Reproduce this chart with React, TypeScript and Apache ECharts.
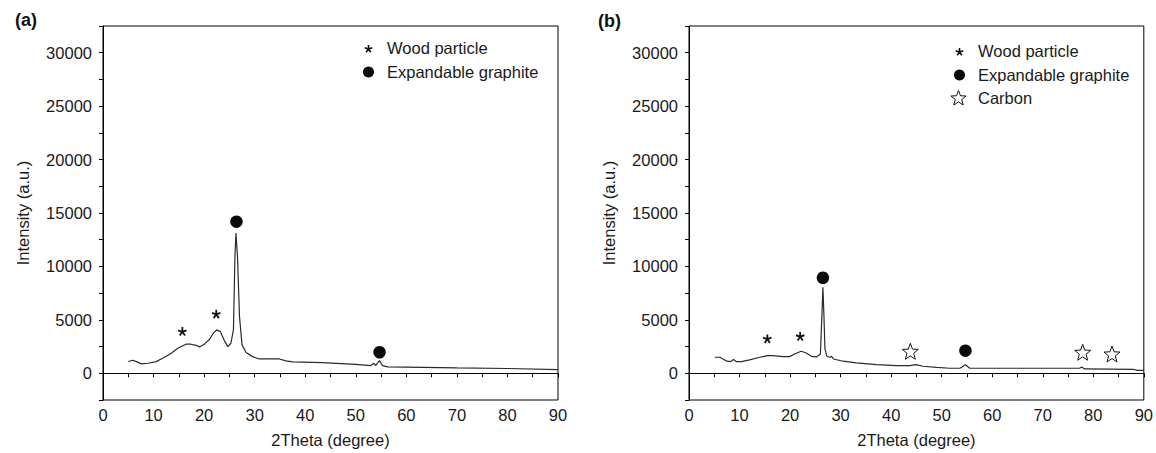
import React, { useEffect, useRef } from "react";
import * as echarts from "echarts";

// ---------- data ----------
const thetaA = [5.0, 5.9, 6.6, 7.6, 8.9, 10.5, 11.8, 13.5, 14.8, 16.4, 17.4, 18.4, 19.1, 20.1, 21.1, 21.8, 22.5, 23.2, 24.0, 24.7, 25.3, 25.8, 26.1, 26.3, 26.6, 27.0, 27.5, 28.3, 29.6, 30.9, 32.9, 34.9, 36.2, 37.5, 43.4, 50.0, 53.0, 53.6, 53.9, 54.7, 55.3, 56.3, 60, 70, 80, 90];
const intensityA = [1100, 1220, 1090, 880, 940, 1090, 1400, 1880, 2340, 2720, 2720, 2620, 2470, 2750, 3190, 3750, 4060, 3900, 3060, 2500, 2810, 4060, 10940, 13130, 10940, 5310, 2660, 1940, 1560, 1340, 1340, 1340, 1160, 1060, 1000, 840, 720, 940, 720, 1190, 720, 600, 580, 500, 450, 350];

const thetaB = [5.1, 6.1, 6.7, 7.5, 8.2, 8.8, 9.4, 10.4, 12.0, 14.0, 15.6, 16.6, 18.6, 19.9, 20.9, 22.2, 23.2, 24.2, 25.2, 26.0, 26.3, 26.5, 26.7, 26.9, 27.3, 27.9, 28.2, 28.6, 30.5, 33.1, 37.1, 41.1, 43.7, 44.9, 46.3, 49.0, 51.6, 53.6, 54.7, 55.5, 61.4, 77.3, 77.7, 78.3, 87.9, 88.7, 90];
const intensityB = [1500, 1500, 1340, 1130, 1090, 1280, 1090, 1090, 1250, 1500, 1660, 1660, 1560, 1560, 1810, 2060, 1900, 1590, 1530, 1810, 5400, 8060, 5400, 2280, 1590, 1500, 1590, 1340, 1130, 970, 810, 720, 720, 810, 660, 560, 470, 470, 800, 490, 470, 470, 590, 410, 375, 280, 280];

const woodA_theta = [15.7, 22.4];
const woodA_int = [3900, 5530];
const graphiteA_theta = [26.4, 54.7];
const graphiteA_int = [14190, 1970];

const woodB_theta = [15.5, 22.0];
const woodB_int = [3220, 3440];
const graphiteB_theta = [26.5, 54.7];
const graphiteB_int = [8940, 2120];
const carbonB_theta = [43.8, 77.9, 83.7];
const carbonB_int = [2060, 1970, 1810];

const legendNames = ["Wood particle", "Expandable graphite", "Carbon"];
const panelLabels = ["(a)", "(b)"];
const xAxisName = "2Theta (degree)";
const yAxisName = "Intensity (a.u.)";

// ---------- shapes ----------
function asteriskPath(): string {
  const angles = [-90, -18, 54, 126, 198];
  const w = 0.2;
  const L = 1;
  let d = "";
  for (const a of angles) {
    const r = (a * Math.PI) / 180;
    const dx = Math.cos(r);
    const dy = Math.sin(r);
    const px = -dy;
    const py = dx;
    const pts = [
      [w * px, w * py],
      [L * dx + w * px, L * dy + w * py],
      [L * dx - w * px, L * dy - w * py],
      [-w * px, -w * py],
    ];
    d += "M" + pts.map((p) => p[0].toFixed(3) + " " + p[1].toFixed(3)).join(" L") + " Z ";
  }
  return d;
}

function starPoints(cx: number, cy: number, R: number, r: number): number[][] {
  const pts: number[][] = [];
  for (let i = 0; i < 10; i++) {
    const ang = ((-90 + i * 36) * Math.PI) / 180;
    const rad = i % 2 === 0 ? R : r;
    pts.push([cx + rad * Math.cos(ang), cy + rad * Math.sin(ang)]);
  }
  return pts;
}

function starPath(): string {
  const pts = starPoints(0, 0, 1, 0.42);
  return "M" + pts.map((p) => p[0].toFixed(3) + " " + p[1].toFixed(3)).join(" L") + " Z";
}

const AST_D = asteriskPath();
const STAR_D = starPath();
echarts.graphic.registerShape("asteriskShape", echarts.graphic.extendPath(AST_D, {}));

const zip = (a: number[], b: number[]) => a.map((v, i) => [v, b[i]]);

const FONT = "Liberation Sans, Arial, sans-serif";
const TXT = "#1a1a1a";
const FS = 16.5;

export default function App() {
  const ref = useRef<HTMLDivElement>(null);

  useEffect(() => {
    if (!ref.current) return;
    const chart = echarts.init(ref.current, undefined, { renderer: "svg" });

    const grids = [
      { left: 103, top: 26, width: 455, height: 375 },
      { left: 689, top: 26, width: 455, height: 375 },
    ];

    const xAxisBase = (gi: number) => ({
      type: "value",
      gridIndex: gi,
      min: 0,
      max: 90,
      interval: 10,
      name: xAxisName,
      nameLocation: "middle",
      nameGap: 31,
      nameTextStyle: { fontSize: FS, color: TXT, fontFamily: FONT },
      axisLine: { show: true, lineStyle: { color: "#000", width: 1 } },
      axisTick: { show: true, inside: false, length: 4, lineStyle: { color: "#000" } },
      minorTick: { show: true, splitNumber: 2, length: 4, lineStyle: { color: "#000" } },
      splitLine: { show: false },
      axisLabel: { fontSize: FS, color: TXT, fontFamily: FONT, margin: 6 },
    });

    const yAxisBase = (gi: number) => ({
      type: "value",
      gridIndex: gi,
      min: -2500,
      max: 32500,
      interval: 2500,
      name: yAxisName,
      nameLocation: "middle",
      nameGap: 72,
      nameTextStyle: { fontSize: FS, color: TXT, fontFamily: FONT },
      axisLine: { show: true, lineStyle: { color: "#000", width: 1 } },
      axisTick: { show: true, inside: false, length: 4, lineStyle: { color: "#000" } },
      splitLine: { show: false },
      axisLabel: {
        fontSize: FS,
        color: TXT,
        fontFamily: FONT,
        margin: 11,
        formatter: (v: number) => (v >= 0 && v % 5000 === 0 ? String(v) : ""),
      },
    });

    const lineSeries = (gi: number, xs: number[], ys: number[]) => ({
      type: "line",
      xAxisIndex: gi,
      yAxisIndex: gi,
      data: zip(xs, ys),
      showSymbol: false,
      symbol: "none",
      lineStyle: { color: "#2a2a2a", width: 1.2 },
      z: 2,
    });

    const astSeries = (gi: number, xs: number[], ys: number[]) => ({
      type: "scatter",
      name: legendNames[0],
      xAxisIndex: gi,
      yAxisIndex: gi,
      data: zip(xs, ys),
      symbol: "path://" + AST_D,
      symbolSize: 9,
      itemStyle: { color: "#111", opacity: 1 },
      z: 3,
    });

    const circleSeries = (gi: number, xs: number[], ys: number[]) => ({
      type: "scatter",
      name: legendNames[1],
      xAxisIndex: gi,
      yAxisIndex: gi,
      data: zip(xs, ys),
      symbol: "circle",
      symbolSize: 12.5,
      itemStyle: { color: "#0a0a0a", opacity: 1 },
      z: 3,
    });

    const starSeries = (gi: number, xs: number[], ys: number[]) => ({
      type: "scatter",
      name: legendNames[2],
      xAxisIndex: gi,
      yAxisIndex: gi,
      data: zip(xs, ys),
      symbol: "path://" + STAR_D,
      symbolSize: 16,
      itemStyle: { color: "#fff", borderColor: "#111", borderWidth: 1, opacity: 1 },
      z: 3,
    });

    const legendText = (x: number, y: number, text: string) => ({
      type: "text",
      x,
      y,
      style: { text, fontSize: FS, fill: TXT, fontFamily: FONT, verticalAlign: "middle", align: "left" },
    });

    const graphic: any[] = [
      {
        type: "text",
        x: 15,
        y: 11,
        style: { text: panelLabels[0], fontSize: 18, fontWeight: "bold", fill: "#111", fontFamily: FONT },
      },
      {
        type: "text",
        x: 598,
        y: 12,
        style: { text: panelLabels[1], fontSize: 18, fontWeight: "bold", fill: "#111", fontFamily: FONT },
      },
      // legend (a)
      { type: "asteriskShape", x: 368.5, y: 49, scaleX: 4, scaleY: 4, style: { fill: "#111" } },
      legendText(387, 48, legendNames[0]),
      { type: "circle", shape: { cx: 368.5, cy: 72, r: 5.5 }, style: { fill: "#0a0a0a" } },
      legendText(387, 72, legendNames[1]),
      // legend (b)
      { type: "asteriskShape", x: 959.5, y: 52, scaleX: 4, scaleY: 4, style: { fill: "#111" } },
      legendText(978, 51, legendNames[0]),
      { type: "circle", shape: { cx: 959.5, cy: 75, r: 5.5 }, style: { fill: "#0a0a0a" } },
      legendText(978, 75, legendNames[1]),
      {
        type: "polygon",
        shape: { points: starPoints(958.5, 98.5, 8, 3.4) },
        style: { fill: "#fff", stroke: "#111", lineWidth: 1 },
      },
      legendText(978, 98, legendNames[2]),
    ];

    chart.setOption({
      animation: false,
      backgroundColor: "#fff",
      textStyle: { fontFamily: FONT },
      grid: grids.map((g) => ({ ...g, show: true, borderColor: "#000", borderWidth: 1, backgroundColor: "transparent" })),
      xAxis: [xAxisBase(0), xAxisBase(1)],
      yAxis: [yAxisBase(0), yAxisBase(1)],
      series: [
        lineSeries(0, thetaA, intensityA),
        astSeries(0, woodA_theta, woodA_int),
        circleSeries(0, graphiteA_theta, graphiteA_int),
        lineSeries(1, thetaB, intensityB),
        astSeries(1, woodB_theta, woodB_int),
        circleSeries(1, graphiteB_theta, graphiteB_int),
        starSeries(1, carbonB_theta, carbonB_int),
      ],
      graphic,
    });

    return () => chart.dispose();
  }, []);

  return (
    <div
      ref={ref}
      style={{ position: "fixed", left: 0, top: 0, width: 1156, height: 453, background: "#fff" }}
    />
  );
}
